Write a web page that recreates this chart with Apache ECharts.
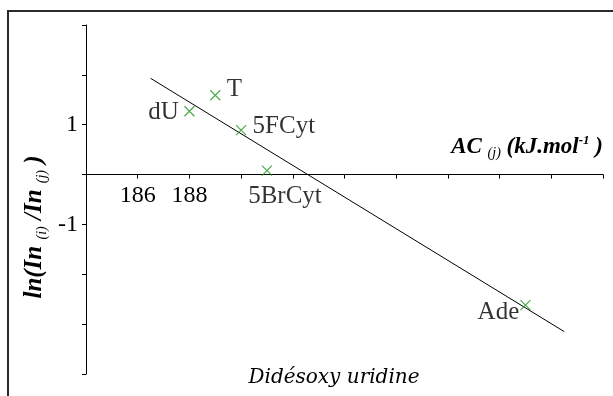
<!DOCTYPE html>
<html><head><meta charset="utf-8">
<script src="https://cdn.jsdelivr.net/npm/echarts@6/dist/echarts.min.js"></script>
<style>html,body{margin:0;padding:0;background:#fff}#c{width:613px;height:396px}</style>
</head><body><div id="c"></div>
<script>
// Data
const names = ['dU', 'T', '5FCyt', '5BrCyt', 'Ade'];
const acValues = [188.0, 189.0, 190.0, 191.0, 201.0];
const lnRatio = [1.27, 1.59, 0.89, 0.08, -2.62];
const fitX = [186.5, 202.5];
const fitY = [1.93, -3.15];
const xTickLabels = ['186', '188'];
const yTickLabels = ['1', '-1'];

const SERIF = '"Liberation Serif", "Times New Roman", serif';
const labelLayout = {
  'dU':     { position: 'left',   distance: 3, offset: [0, 1] },
  'T':      { position: 'right',  distance: 4, offset: [0, -6] },
  '5FCyt':  { position: 'right',  distance: 4, offset: [0, -4] },
  '5BrCyt': { position: 'inside', offset: [18, 26] },
  'Ade':    { position: 'inside', offset: [-27, 7] }
};

const scatterData = names.map((n, i) => ({
  name: n,
  value: [acValues[i], lnRatio[i]],
  label: Object.assign({ show: true, formatter: n }, labelLayout[n])
}));
const fitData = fitX.map((x, i) => [x, fitY[i]]);

const GRID = { left: 86, right: 10, top: 25, bottom: 22 };
const Y_MIN = -4, Y_MAX = 3;
const plotH = 396 - GRID.top - GRID.bottom;
const zeroOffset = -plotH * (0 - Y_MIN) / (Y_MAX - Y_MIN);

const chart = echarts.init(document.getElementById('c'), null, { renderer: 'canvas' });
chart.setOption({
  animation: false,
  backgroundColor: '#fff',
  grid: Object.assign({ outerBoundsMode: 'none', containLabel: false }, GRID),
  xAxis: {
    type: 'value', min: 184, max: 204, interval: 2,
    offset: zeroOffset,
    splitLine: { show: false },
    axisLine: { onZero: false, lineStyle: { color: '#000', width: 1 } },
    axisTick: { show: true, length: 4, lineStyle: { color: '#000' } },
    axisLabel: {
      margin: 9, color: '#000', fontFamily: SERIF, fontSize: 24,
      formatter: v => xTickLabels.includes(String(v)) ? String(v) : ''
    }
  },
  yAxis: {
    type: 'value', min: Y_MIN, max: Y_MAX, interval: 1,
    splitLine: { show: false },
    axisLine: { onZero: false, lineStyle: { color: '#000', width: 1 } },
    axisTick: { show: true, length: 4, lineStyle: { color: '#000' } },
    axisLabel: {
      margin: 8, color: '#000', fontFamily: SERIF, fontSize: 24,
      formatter: v => yTickLabels.includes(String(v)) ? String(v) : ''
    }
  },
  series: [
    {
      type: 'line', data: fitData, symbol: 'none', silent: true,
      lineStyle: { color: '#000', width: 1 }, z: 2
    },
    {
      type: 'scatter', data: scatterData,
      symbol: 'path://M0,0L10,10M10,0L0,10', symbolSize: 10,
      itemStyle: { color: 'none', borderColor: '#1f931f', borderWidth: 1.2 },
      label: { color: '#000', fontFamily: SERIF, fontSize: 25 },
      z: 3
    }
  ],
  graphic: [
    {
      type: 'rect', silent: true,
      shape: { x: 8, y: 11, width: 620, height: 420 },
      style: { fill: 'none', stroke: '#2a2a2a', lineWidth: 2 }, z: -1
    },
    {
      type: 'text', x: 35, y: 227, rotation: Math.PI / 2,
      style: {
        text: '{b|ln(In }{s|(i)}{b| /In }{s|(j)}{b| )}',
        align: 'center', verticalAlign: 'middle',
        rich: {
          b: { fontFamily: SERIF, fontSize: 25, fontWeight: 'bold', fontStyle: 'italic', fill: '#000', lineHeight: 28 },
          s: { fontFamily: SERIF, fontSize: 14, fontStyle: 'italic', fill: '#000', lineHeight: 15, verticalAlign: 'bottom' }
        }
      }
    },
    {
      type: 'text', x: 603, y: 160,
      style: {
        text: '{b|AC }{s|(j)}{b| (kJ.mol}{p|-1}{b| )}',
        align: 'right', verticalAlign: 'bottom',
        rich: {
          b: { fontFamily: SERIF, fontSize: 23, fontWeight: 'bold', fontStyle: 'italic', fill: '#000', lineHeight: 26 },
          s: { fontFamily: SERIF, fontSize: 14, fontStyle: 'italic', fill: '#000', lineHeight: 13, verticalAlign: 'bottom' },
          p: { fontFamily: SERIF, fontSize: 13, fontWeight: 'bold', fontStyle: 'italic', fill: '#000', lineHeight: 13, verticalAlign: 'top' }
        }
      }
    },
    {
      type: 'text', x: 334, y: 378,
      style: {
        text: 'Didésoxy uridine',
        align: 'center', verticalAlign: 'middle',
        fontFamily: '"DejaVu Serif", serif', fontSize: 20, fontStyle: 'italic', fill: '#000'
      }
    }
  ]
});
</script>
</body></html>
